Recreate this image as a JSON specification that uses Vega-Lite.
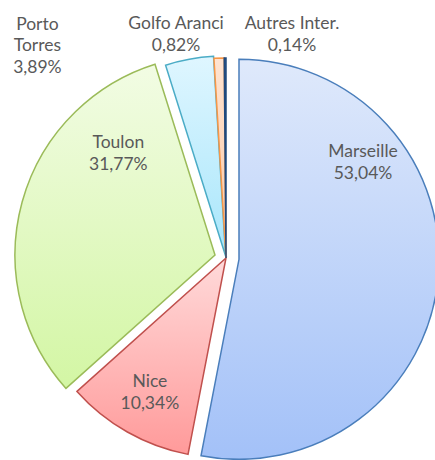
{
  "$schema": "https://vega.github.io/schema/vega-lite/v6.json",
  "width": 400,
  "height": 400,
  "autosize": "none",
  "padding": {"left": 26, "top": 58, "right": 9, "bottom": 2},
  "background": "white",
  "config": {"view": {"stroke": null}},
  "data": {"values": [
    {"port": "Marseille", "part": 53.04, "label": "Marseille\n53,04%"},
    {"port": "Nice", "part": 10.34, "label": "Nice\n10,34%"},
    {"port": "Toulon", "part": 31.77, "label": "Toulon\n31,77%"},
    {"port": "Porto Torres", "part": 3.89, "label": "Porto\nTorres\n3,89%"},
    {"port": "Golfo Aranci", "part": 0.82, "label": "Golfo Aranci\n0,82%"},
    {"port": "Autres Inter.", "part": 0.14, "label": "Autres Inter.\n0,14%"}
  ]},
  "transform": [{"stack": "part", "groupby": [], "as": ["t0", "t1"]}],
  "layer": [
    {
      "transform": [{"filter": "datum.port === 'Marseille'"}],
      "mark": {"type": "arc", "xOffset": 13, "yOffset": 1.3, "stroke": "#4a7ebb", "strokeWidth": 1.5,
        "fill": {"gradient": "linear", "x1": 0, "y1": 0, "x2": 0, "y2": 1, "stops": [{"offset": 0, "color": "#dfe9fb"}, {"offset": 1, "color": "#a3c1f8"}]}},
      "encoding": {"theta": {"field": "t0", "type": "quantitative", "scale": {"domain": [0, 100]}}, "theta2": {"field": "t1"}}
    },
    {
      "transform": [{"filter": "datum.port === 'Nice'"}],
      "mark": {"type": "arc", "stroke": "#c0504d", "strokeWidth": 1.5,
        "fill": {"gradient": "linear", "x1": 0, "y1": 0, "x2": 0, "y2": 1, "stops": [{"offset": 0, "color": "#ffdada"}, {"offset": 1, "color": "#ff9a9a"}]}},
      "encoding": {"theta": {"field": "t0", "type": "quantitative", "scale": {"domain": [0, 100]}}, "theta2": {"field": "t1"}}
    },
    {
      "transform": [{"filter": "datum.port === 'Toulon'"}],
      "mark": {"type": "arc", "xOffset": -11, "yOffset": -3, "stroke": "#9bbb59", "strokeWidth": 1.5,
        "fill": {"gradient": "linear", "x1": 0, "y1": 0, "x2": 0, "y2": 1, "stops": [{"offset": 0, "color": "#f2fce4"}, {"offset": 1, "color": "#d3f6a4"}]}},
      "encoding": {"theta": {"field": "t0", "type": "quantitative", "scale": {"domain": [0, 100]}}, "theta2": {"field": "t1"}}
    },
    {
      "transform": [{"filter": "datum.port === 'Porto Torres'"}],
      "mark": {"type": "arc", "xOffset": -0.4, "yOffset": -2, "stroke": "#4bacc6", "strokeWidth": 1.5,
        "fill": {"gradient": "linear", "x1": 0, "y1": 0, "x2": 0, "y2": 1, "stops": [{"offset": 0, "color": "#dff6ff"}, {"offset": 1, "color": "#a8e6fb"}]}},
      "encoding": {"theta": {"field": "t0", "type": "quantitative", "scale": {"domain": [0, 100]}}, "theta2": {"field": "t1"}}
    },
    {
      "transform": [{"filter": "datum.port === 'Golfo Aranci'"}],
      "mark": {"type": "arc", "stroke": "#f79646", "strokeWidth": 1.5,
        "fill": {"gradient": "linear", "x1": 0, "y1": 0, "x2": 0, "y2": 1, "stops": [{"offset": 0, "color": "#fee3d0"}, {"offset": 1, "color": "#fcc9a6"}]}},
      "encoding": {"theta": {"field": "t0", "type": "quantitative", "scale": {"domain": [0, 100]}}, "theta2": {"field": "t1"}}
    },
    {
      "transform": [{"filter": "datum.port === 'Autres Inter.'"}],
      "mark": {"type": "arc", "stroke": "#1f497d", "strokeWidth": 1.5, "fill": "#3a5f8f"},
      "encoding": {"theta": {"field": "t0", "type": "quantitative", "scale": {"domain": [0, 100]}}, "theta2": {"field": "t1"}}
    },
    {
      "transform": [{"filter": "datum.port === 'Marseille'"}],
      "mark": {"type": "text", "radius": 95, "dx": 137, "dy": -10.75, "lineBreak": "\n", "lineHeight": 21.5, "font": "Lato", "fontSize": 17.5, "fill": "#595959", "baseline": "middle", "align": "center"},
      "encoding": {"theta": {"field": "t0", "type": "quantitative", "scale": {"domain": [0, 100]}}, "text": {"field": "label"}}
    },
    {
      "transform": [{"filter": "datum.port === 'Nice'"}],
      "mark": {"type": "text", "radius": 137.5, "dx": -50, "dy": -10.75, "lineBreak": "\n", "lineHeight": 21.5, "font": "Lato", "fontSize": 17.5, "fill": "#595959", "baseline": "middle", "align": "center"},
      "encoding": {"theta": {"field": "t0", "type": "quantitative", "scale": {"domain": [0, 100]}}, "text": {"field": "label"}}
    },
    {
      "transform": [{"filter": "datum.port === 'Toulon'"}],
      "mark": {"type": "text", "radius": 109, "dx": -75, "dy": -10.75, "lineBreak": "\n", "lineHeight": 21.5, "font": "Lato", "fontSize": 17.5, "fill": "#595959", "baseline": "middle", "align": "center"},
      "encoding": {"theta": {"field": "t1", "type": "quantitative", "scale": {"domain": [0, 100]}}, "text": {"field": "label"}}
    },
    {
      "transform": [{"filter": "datum.port === 'Porto Torres'"}],
      "mark": {"type": "text", "radius": 222, "dx": -122, "dy": -21.5, "lineBreak": "\n", "lineHeight": 21.5, "font": "Lato", "fontSize": 17.5, "fill": "#595959", "baseline": "middle", "align": "center"},
      "encoding": {"theta": {"field": "t0", "type": "quantitative", "scale": {"domain": [0, 100]}}, "text": {"field": "label"}}
    },
    {
      "transform": [{"filter": "datum.port === 'Golfo Aranci'"}],
      "mark": {"type": "text", "radius": 223.4, "dx": -36.5, "dy": -10.75, "lineBreak": "\n", "lineHeight": 21.5, "font": "Lato", "fontSize": 17.5, "fill": "#595959", "baseline": "middle", "align": "center"},
      "encoding": {"theta": {"field": "t0", "type": "quantitative", "scale": {"domain": [0, 100]}}, "text": {"field": "label"}}
    },
    {
      "transform": [{"filter": "datum.port === 'Autres Inter.'"}],
      "mark": {"type": "text", "radius": 223, "dx": 68, "dy": -10.75, "lineBreak": "\n", "lineHeight": 21.5, "font": "Lato", "fontSize": 17.5, "fill": "#595959", "baseline": "middle", "align": "center"},
      "encoding": {"theta": {"field": "t0", "type": "quantitative", "scale": {"domain": [0, 100]}}, "text": {"field": "label"}}
    }
  ]
}
